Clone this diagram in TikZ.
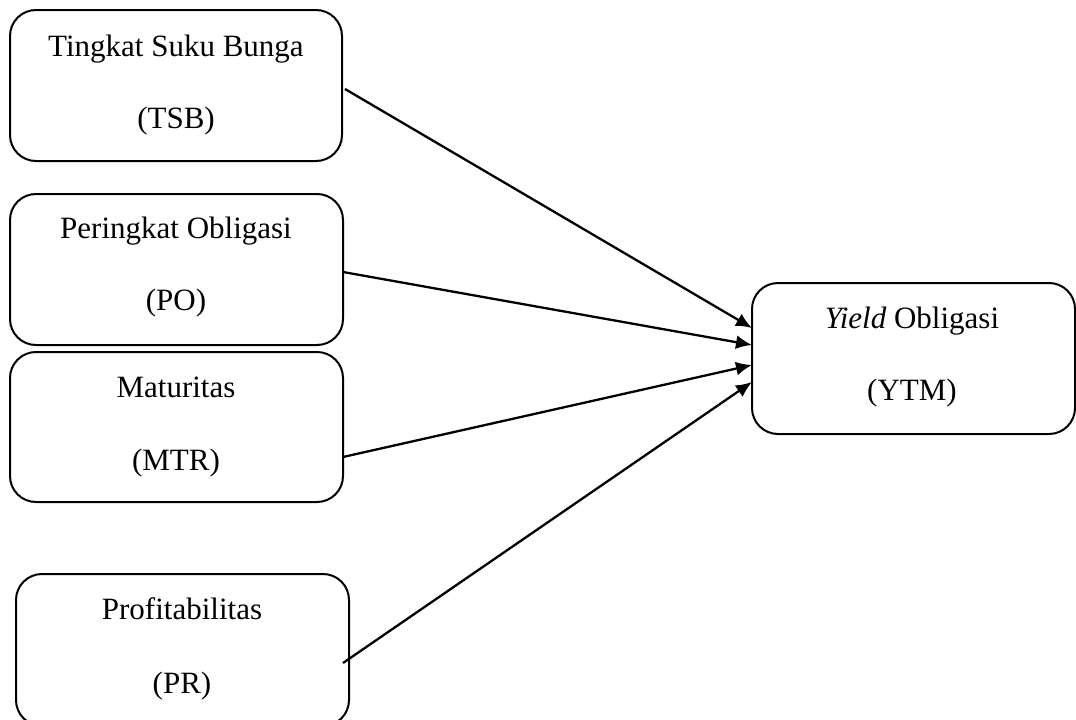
\documentclass[tikz,border=0pt]{standalone}
\usepackage{fontspec}
\setmainfont{Liberation Serif}
\usetikzlibrary{arrows.meta}
\begin{document}
\begin{tikzpicture}[x=1pt,y=-1pt,
  box/.style={draw=black, line width=2pt, rounded corners=26pt},
  lbl/.style={font=\fontsize{31}{36}\selectfont, inner sep=0pt, anchor=base},
  conn/.style={line width=2.3pt, -{Latex[length=16pt,width=14pt]}}]
\useasboundingbox (0,0) rectangle (1076,720);
% boxes
\draw[box] (10,10) rectangle (342,161);
\draw[box] (10,194) rectangle (343,345);
\draw[box] (10,352) rectangle (343,502);
\draw[box] (16,574) rectangle (349,726);
\draw[box] (752,283) rectangle (1075,434);
% labels
\node[lbl] (t1) at (176,56) {Tingkat Suku Bunga};
\node[lbl] (t2) at (176,128) {(TSB)};
\node[lbl] (p1) at (176,238) {Peringkat Obligasi};
\node[lbl] (p2) at (176,310) {(PO)};
\node[lbl] (m1) at (176,397) {Maturitas};
\node[lbl] (m2) at (176,470) {(MTR)};
\node[lbl] (r1) at (182,619) {Profitabilitas};
\node[lbl] (r2) at (182,693) {(PR)};
\node[lbl] (y1) at (912,328) {\textit{Yield} Obligasi};
\node[lbl] (y2) at (912,400) {(YTM)};
% connector ends
\coordinate (sa) at (345,89);
\coordinate (sb) at (343,272);
\coordinate (sc) at (343,457);
\coordinate (sd) at (343,663);
\coordinate (ea) at (752,328);
\coordinate (eb) at (752,345);
\coordinate (ec) at (752,365);
\coordinate (ed) at (752,382);
\draw[conn] (sa) -- (ea);
\draw[conn] (sb) -- (eb);
\draw[conn] (sc) -- (ec);
\draw[conn] (sd) -- (ed);
\end{tikzpicture}
\end{document}
